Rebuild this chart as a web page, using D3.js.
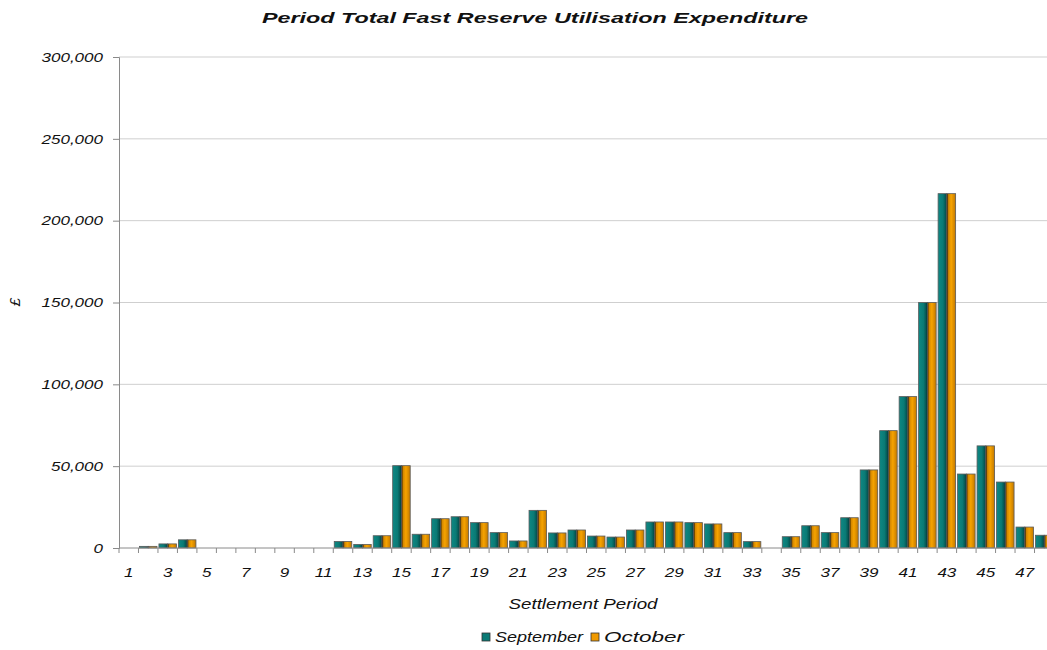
<!DOCTYPE html>
<html>
<head>
<meta charset="utf-8">
<script src="https://cdnjs.cloudflare.com/ajax/libs/d3/7.8.5/d3.min.js"></script>
<style>
  body { margin: 0; background: #fff; }
  text { font-family: "Liberation Sans", Arial, sans-serif; fill: #111; }
</style>
</head>
<body>
<div id="chart"></div>
<script>
// settlement periods and expenditure (£)
var periods = d3.range(1, 49);
var september = [0, 1000, 2500, 5000, 0, 0, 0, 0, 0, 0, 0, 4000, 2200, 7500, 50300, 8400,
  17900, 19100, 15500, 9400, 4300, 23000, 9200, 11000, 7300, 6700, 11000, 15900, 15900, 15500,
  14700, 9400, 3900, 0, 6900, 13600, 9400, 18500, 47700, 71700, 92500, 150000, 216500, 45200,
  62400, 40300, 12800, 7800];
var october = [0, 1000, 2500, 5000, 0, 0, 0, 0, 0, 0, 0, 4000, 2200, 7500, 50300, 8400,
  17900, 19100, 15500, 9400, 4300, 23000, 9200, 11000, 7300, 6700, 11000, 15900, 15900, 15500,
  14700, 9400, 3900, 0, 6900, 13600, 9400, 18500, 47700, 71700, 92500, 150000, 216500, 45200,
  62400, 40300, 12800, 7800];
var seriesNames = ["September", "October"];
var yTicks = [0, 50000, 100000, 150000, 200000, 250000, 300000];

var svgWidth = 1047, svgHeight = 650;
var margin = { left: 119, top: 57, bottom: 548, right: 1054 };

var svg = d3.select("#chart").append("svg")
  .attr("width", svgWidth)
  .attr("height", svgHeight);

// gradients for the shaded bar faces
var defs = svg.append("defs");
var gTeal = defs.append("linearGradient").attr("id", "teal");
gTeal.append("stop").attr("offset", "0%").attr("stop-color", "#0e8884");
gTeal.append("stop").attr("offset", "55%").attr("stop-color", "#0a7a75");
gTeal.append("stop").attr("offset", "85%").attr("stop-color", "#065552");
gTeal.append("stop").attr("offset", "100%").attr("stop-color", "#023230");
var gOrange = defs.append("linearGradient").attr("id", "orange");
gOrange.append("stop").attr("offset", "0%").attr("stop-color", "#140e00");
gOrange.append("stop").attr("offset", "20%").attr("stop-color", "#d48700");
gOrange.append("stop").attr("offset", "50%").attr("stop-color", "#f6a300");
gOrange.append("stop").attr("offset", "100%").attr("stop-color", "#c27800");

var x = d3.scaleBand()
  .domain(periods)
  .range([margin.left, margin.right])
  .paddingInner(0.1)
  .paddingOuter(0.05);
var xSub = d3.scaleBand()
  .domain(seriesNames)
  .range([0, x.bandwidth()]);
var y = d3.scaleLinear()
  .domain([0, 300000])
  .range([margin.bottom, margin.top]);

// horizontal gridlines
svg.append("g")
  .selectAll("line")
  .data(yTicks.slice(1))
  .enter()
  .append("line")
  .attr("x1", margin.left).attr("x2", svgWidth)
  .attr("y1", d => y(d)).attr("y2", d => y(d))
  .attr("stroke", "#cfcfcf")
  .attr("stroke-width", 1);

// y axis
var yAxis = svg.append("g")
  .attr("transform", `translate(${margin.left},0)`)
  .call(d3.axisLeft(y).tickValues(yTicks).tickFormat(d3.format(",")).tickSize(6).tickPadding(10));
yAxis.select(".domain").attr("stroke", "#8a8a8a");
yAxis.selectAll(".tick line").attr("stroke", "#8a8a8a");
yAxis.selectAll("text")
  .style("font-size", "13.5px")
  .style("font-style", "italic")
  .attr("fill", "#111");

// bars
var data = periods.map((p, i) => ({ period: p, values: [september[i], october[i]] }));
var groups = svg.append("g")
  .selectAll("g")
  .data(data)
  .enter()
  .append("g")
  .attr("transform", d => `translate(${x(d.period)},0)`);
groups.selectAll("rect")
  .data(d => d.values.map((v, j) => ({ name: seriesNames[j], value: v })).filter(e => e.value > 0))
  .enter()
  .append("rect")
  .attr("x", d => xSub(d.name))
  .attr("width", xSub.bandwidth())
  .attr("y", d => y(d.value))
  .attr("height", d => margin.bottom - y(d.value))
  .attr("fill", d => d.name === "September" ? "url(#teal)" : "url(#orange)")
  .attr("stroke", "#5a5a5a")
  .attr("stroke-width", 0.8);

// x axis line, boundary ticks and labels
svg.append("line")
  .attr("x1", margin.left).attr("x2", svgWidth)
  .attr("y1", margin.bottom).attr("y2", margin.bottom)
  .attr("stroke", "#8a8a8a");
var gap = x.step() - x.bandwidth();
svg.append("g")
  .selectAll("line")
  .data(periods)
  .enter()
  .append("line")
  .attr("x1", d => x(d) - gap / 2).attr("x2", d => x(d) - gap / 2)
  .attr("y1", margin.bottom).attr("y2", margin.bottom + 5)
  .attr("stroke", "#8a8a8a");
var xAxis = svg.append("g")
  .attr("transform", `translate(0,${margin.bottom})`)
  .call(d3.axisBottom(x).tickValues(periods.filter(p => p % 2 === 1)).tickSize(0).tickPadding(19));
xAxis.select(".domain").remove();
xAxis.selectAll("text")
  .style("font-size", "13.5px")
  .style("font-style", "italic")
  .attr("fill", "#111");

// widen glyphs like the stretched original
function stretch(sel, k) {
  sel.each(function () {
    var w = this.getComputedTextLength();
    d3.select(this).attr("textLength", w * k).attr("lengthAdjust", "spacingAndGlyphs");
  });
}
stretch(yAxis.selectAll("text"), 1.26);
stretch(xAxis.selectAll("text"), 1.26);

// titles
var title = svg.append("text")
  .attr("x", 535).attr("y", 23)
  .attr("text-anchor", "middle")
  .style("font-size", "15px")
  .style("font-weight", "bold")
  .style("font-style", "italic")
  .text("Period Total Fast Reserve Utilisation Expenditure");
title.attr("textLength", 546).attr("lengthAdjust", "spacingAndGlyphs");

var xTitle = svg.append("text")
  .attr("x", 583).attr("y", 609)
  .attr("text-anchor", "middle")
  .style("font-size", "14px")
  .style("font-style", "italic")
  .text("Settlement Period");
xTitle.attr("textLength", 149).attr("lengthAdjust", "spacingAndGlyphs");

svg.append("text")
  .attr("transform", "translate(20,302) rotate(-90)")
  .attr("text-anchor", "middle")
  .style("font-size", "15px")
  .style("font-style", "italic")
  .text("£");

// legend
var legendX = [482, 591];
var legendW = [88, 80];
var legend = svg.append("g")
  .selectAll("g")
  .data(seriesNames)
  .enter()
  .append("g")
  .attr("transform", (d, i) => `translate(${legendX[i]},633)`);
legend.append("rect")
  .attr("width", 8).attr("height", 8)
  .attr("fill", (d, i) => i === 0 ? "#0a7a75" : "#f09a00")
  .attr("stroke", "#333")
  .attr("stroke-width", 0.8);
legend.append("text")
  .attr("x", 13).attr("y", 9)
  .style("font-size", "14px")
  .style("font-style", "italic")
  .text(d => d)
  .attr("textLength", (d, i) => legendW[i])
  .attr("lengthAdjust", "spacingAndGlyphs");
</script>
</body>
</html>
